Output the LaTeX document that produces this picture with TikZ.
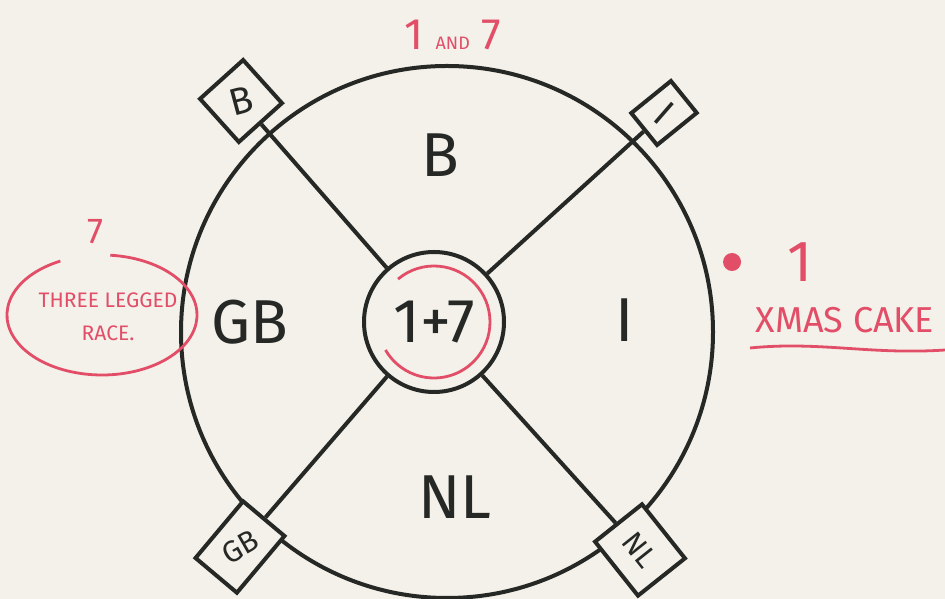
\documentclass[tikz,border=0pt]{standalone}
\usepackage{fontspec}
\setmainfont{Fira Sans}
\usepackage{graphicx}
\usetikzlibrary{positioning}
\definecolor{paper}{RGB}{243,241,233}
\definecolor{pen}{RGB}{38,40,38}
\definecolor{marker}{RGB}{226,78,104}
\newcommand{\hand}[1]{\fontsize{#1}{#1}\selectfont}

\begin{document}
\begin{tikzpicture}[x=1pt,y=1pt,
  ink/.style={draw=pen,line width=4pt},
  redink/.style={draw=marker,line width=2.8pt},
  cornerbox/.style={rectangle,draw=pen,line width=4pt,inner sep=0pt,
                    text=pen,font=\hand{38}},
  quad/.style={text=pen,font=\hand{62}},
  note/.style={text=marker,inner sep=0pt}
]
  \fill[paper] (0,0) rectangle (945,599);
  \useasboundingbox (0,0) rectangle (945,599);

  \node[circle,ink,minimum size=532pt] (rim) at (447,267) {};
  \node[circle,ink,minimum size=140pt,inner sep=0pt,text=pen,font=\hand{62}] (hub) at (434,277) {1+7};

  \node[cornerbox,rotate=42,minimum width=58pt,minimum height=58pt,fill=paper] (boxB) at (241,498) {\rotatebox{-27}{B}};
  \node[cornerbox,rotate=-51,minimum width=41pt,minimum height=51pt,fill=paper] (boxI) at (664,486) {\rotatebox{10}{I}};
  \node[cornerbox,rotate=50,minimum width=74pt,minimum height=54pt,fill=paper,font=\hand{30}] (boxGB) at (240,52) {\rotatebox{-20}{GB}};
  \node[cornerbox,rotate=-51.5,minimum width=69pt,minimum height=60pt,fill=paper,font=\hand{30}] (boxNL) at (640,49) {NL};

  \draw[ink] (hub) -- (boxB);
  \draw[ink] (hub) -- (boxI);
  \draw[ink] (hub) -- (boxGB);
  \draw[ink] (hub) -- (boxNL);

  \draw[redink] (hub.center) ++(130:56) arc[start angle=130,end angle=-150,radius=56];

  \node[quad] (qB)  at (440,444) {B};
  \node[quad] (qGB) at (250,277) {GB};
  \node[quad] (qI)  at (625,279) {I};
  \node[quad] (qNL) at (455,102) {NL};

  \node[note,font=\hand{44}] (top) at (453,564) {1 {\hand{18}AND} 7};

  \node[note,font=\hand{36}] (seven) at (95,367) {7};
  \node[note,font=\hand{21}] (legged) at (108,299) {THREE LEGGED};
  \node[note,font=\hand{21},below=18pt of legged] (race) {RACE.};
  \draw[redink] (102,284) ++(116:95 and 60) arc[start angle=116,end angle=445,x radius=95,y radius=60];

  \node[note,font=\hand{58}] (one) at (800,337) {1};
  \node[circle,fill=marker,minimum size=18pt,inner sep=0pt,left=46pt of one] (blob) {};
  \node[note,font=\hand{36}] (xmas) at (845,279) {XMAS CAKE};
  \coordinate (ulA) at (750,251);
  \coordinate (ulB) at (945,249);
  \draw[redink] (ulA) .. controls (820,258) and (870,244) .. (ulB);
\end{tikzpicture}
\end{document}
